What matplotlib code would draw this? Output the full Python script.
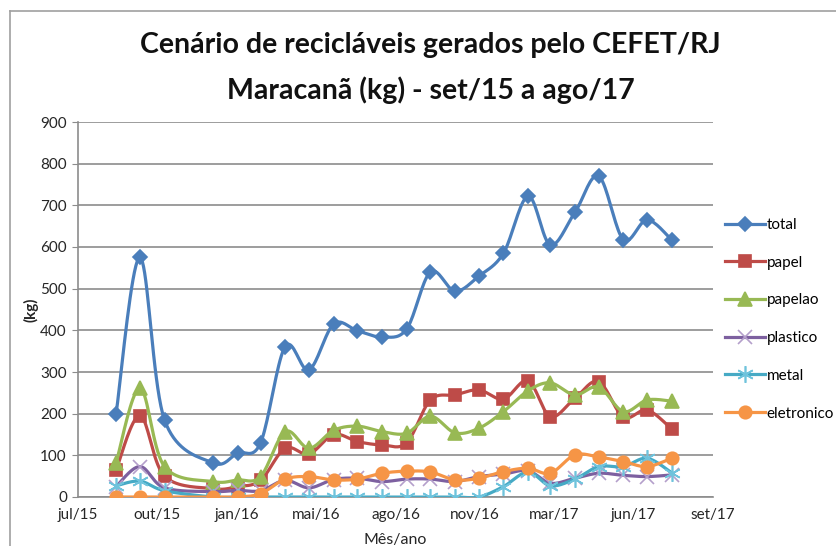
import numpy as np
import matplotlib.pyplot as plt
import matplotlib.dates as mdates
from matplotlib.lines import Line2D
import datetime as dt

plt.rcParams['font.family'] = ['Lato', 'DejaVu Sans']

# months with data (dez/15 has no record)
months = ['2015-09', '2015-10', '2015-11',
          '2016-01', '2016-02', '2016-03', '2016-04', '2016-05', '2016-06',
          '2016-07', '2016-08', '2016-09', '2016-10', '2016-11', '2016-12',
          '2017-01', '2017-02', '2017-03', '2017-04', '2017-05', '2017-06',
          '2017-07', '2017-08']

total = [200, 575, 185, 82, 105, 130, 361, 305, 415, 399, 384, 403,
         540, 494, 530, 585, 722, 605, 683, 770, 618, 665, 617]
papel = [65, 195, 50, 20, 25, 40, 117, 103, 150, 133, 125, 130,
         233, 245, 257, 235, 279, 193, 237, 277, 192, 209, 163]
papelao = [82, 261, 73, 37, 41, 49, 157, 117, 160, 170, 157, 153,
           194, 154, 165, 205, 255, 274, 245, 264, 205, 233, 230]
plastico = [25, 73, 22, 13, 16, 15, 40, 22, 42, 45, 37, 43,
            43, 37, 49, 55, 63, 33, 45, 57, 52, 49, 53]
metal = [27, 38, 15, 0, 0, 0, 0, 0, 0, 0, 0, 0,
         0, 0, 0, 25, 60, 27, 43, 73, 73, 93, 58]
eletronico = [0, 0, 0, 0, 0, 8, 43, 49, 41, 43, 57, 62,
              60, 41, 45, 61, 69, 57, 101, 96, 85, 73, 93]

series_names = ['total', 'papel', 'papelao', 'plastico', 'metal', 'eletronico']
colors = ['#4A7EBB', '#BE4B48', '#98B954', '#7D60A0', '#46AAC5', '#F69546']
marker_colors = ['#4A7EBB', '#BE4B48', '#98B954', '#B49FCB', '#6FC3DC', '#F69546']
markers = ['D', 's', '^', 'x', (6, 2, 0), 'o']
msizes = [7, 9, 9.5, 10, 12, 9]

tick_labels = ['jul/15', 'out/15', 'jan/16', 'mai/16', 'ago/16',
               'nov/16', 'mar/17', 'jun/17', 'set/17']

x = mdates.date2num([dt.datetime.strptime(m + '-01', '%Y-%m-%d') for m in months])
tick_start = mdates.date2num(dt.datetime(2015, 7, 15))
ticks = tick_start + 100 * np.arange(len(tick_labels))


def smooth(xs, ys, n=20):
    # excel-like smoothed line (bezier through points)
    xs = np.asarray(xs, float)
    ys = np.asarray(ys, float)
    px = np.concatenate([[xs[0]], xs, [xs[-1]]])
    py = np.concatenate([[ys[0]], ys, [ys[-1]]])
    out_x, out_y = [], []
    t = np.linspace(0, 1, n)
    for i in range(1, len(px) - 2):
        p0 = np.array([px[i], py[i]])
        p3 = np.array([px[i + 1], py[i + 1]])
        c1 = p0 + (np.array([px[i + 1], py[i + 1]]) - np.array([px[i - 1], py[i - 1]])) / 6
        c2 = p3 - (np.array([px[i + 2], py[i + 2]]) - np.array([px[i], py[i]])) / 6
        b = ((1 - t) ** 3)[:, None] * p0 + (3 * (1 - t) ** 2 * t)[:, None] * c1 \
            + (3 * (1 - t) * t ** 2)[:, None] * c2 + (t ** 3)[:, None] * p3
        out_x.extend(b[:, 0])
        out_y.extend(b[:, 1])
    return out_x, out_y


fig = plt.figure(figsize=(8.36, 5.46), dpi=100)
ax = fig.add_axes([78 / 836, 49 / 546, 635 / 836, 375 / 546])

data = [total, papel, papelao, plastico, metal, eletronico]
handles = []
for i, ys in enumerate(data):
    sx, sy = smooth(x, ys)
    ax.plot(sx, sy, color=colors[i], lw=2.3, zorder=3 + i, solid_capstyle='round')
    ax.plot(x, ys, ls='none', marker=markers[i], ms=msizes[i],
            color=marker_colors[i], mec=marker_colors[i], mew=1.2, zorder=3 + i)
    handles.append(Line2D([], [], color=colors[i], lw=2.3, marker=markers[i],
                          ms=msizes[i], mfc=marker_colors[i], mec=marker_colors[i], mew=1.2))

ax.set_xlim(ticks[0], ticks[-1])
ax.set_ylim(0, 900)
ax.set_yticks(np.arange(0, 901, 100))
ax.set_xticks(ticks)
ax.set_xticklabels(tick_labels)
ax.yaxis.grid(True, color='#8C8C8C', lw=1.2)
ax.set_axisbelow(True)
for s in ['top', 'right']:
    ax.spines[s].set_visible(False)
for s in ['left', 'bottom']:
    ax.spines[s].set_color('#8C8C8C')
    ax.spines[s].set_linewidth(1.2)
ax.tick_params(axis='both', colors='#8C8C8C', length=4, labelsize=11,
               labelcolor='#262626', pad=4)
ax.tick_params(axis='x', length=0, pad=8)

ax.set_ylabel('(kg)', fontsize=11, fontweight='bold', color='#262626', labelpad=1)
ax.set_xlabel('Mês/ano', fontsize=11.5, color='#262626', labelpad=8)

fig.text(0.515, 1 - 45 / 546, 'Cenário de recicláveis gerados pelo CEFET/RJ',
         ha='center', va='center', fontsize=20.5, fontweight='bold', color='#111111')
fig.text(0.515, 1 - 90 / 546, 'Maracanã (kg) - set/15 a ago/17',
         ha='center', va='center', fontsize=20.5, fontweight='bold', color='#111111')

ax.legend(handles, series_names, loc='upper left', bbox_to_anchor=(1.01, 0.76),
          frameon=False, fontsize=11, handlelength=2.6, handletextpad=0.1,
          labelspacing=1.55, numpoints=1, borderaxespad=0)

# chart area border
fig.add_artist(Line2D([10 / 836, 10 / 836], [0, 1 - 11 / 546],
                      transform=fig.transFigure, color='#A0A0A0', lw=1.2))
fig.add_artist(Line2D([10 / 836, 1], [1 - 11 / 546, 1 - 11 / 546],
                      transform=fig.transFigure, color='#A0A0A0', lw=1.2))

fig.savefig('out.png', dpi=100)
